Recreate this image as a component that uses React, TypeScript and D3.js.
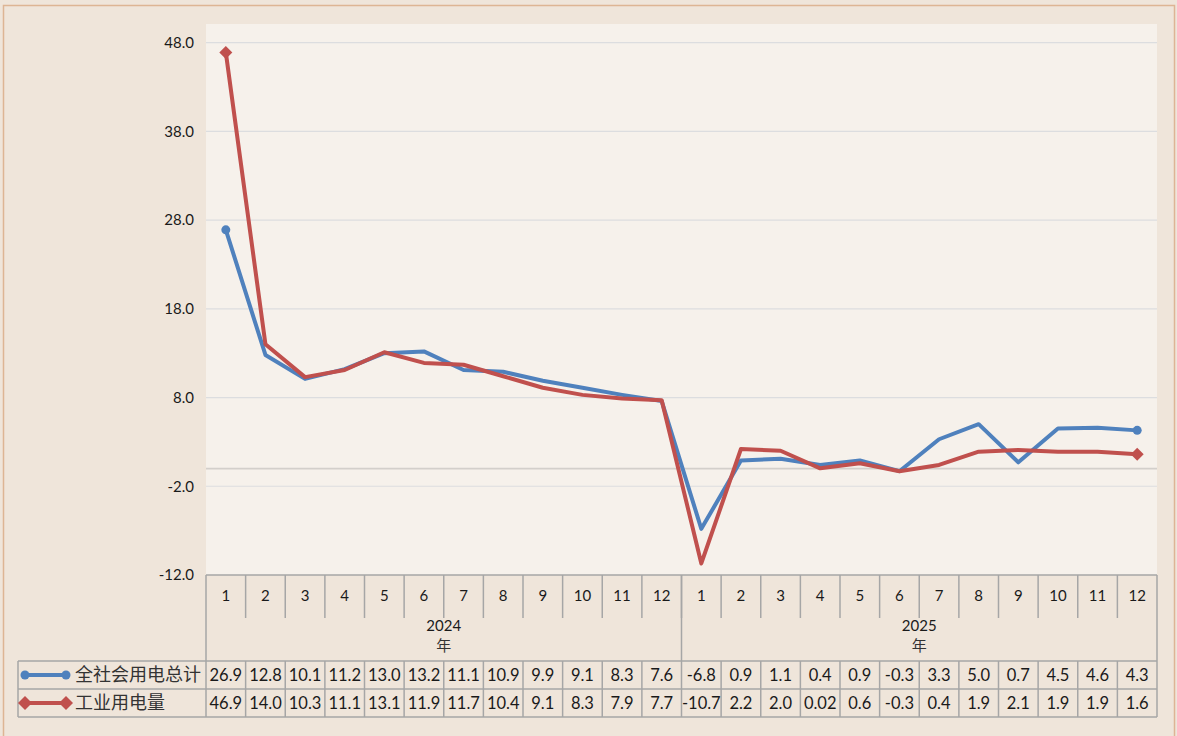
import { useMemo } from "react";
import * as d3 from "d3";

// ── Data ────────────────────────────────────────────────────────────────
const months = ["1", "2", "3", "4", "5", "6", "7", "8", "9", "10", "11", "12"];
const years = ["2024", "2025"];
const totalLabels = [
  "26.9", "12.8", "10.1", "11.2", "13.0", "13.2", "11.1", "10.9", "9.9", "9.1", "8.3", "7.6",
  "-6.8", "0.9", "1.1", "0.4", "0.9", "-0.3", "3.3", "5.0", "0.7", "4.5", "4.6", "4.3",
];
const industryLabels = [
  "46.9", "14.0", "10.3", "11.1", "13.1", "11.9", "11.7", "10.4", "9.1", "8.3", "7.9", "7.7",
  "-10.7", "2.2", "2.0", "0.02", "0.6", "-0.3", "0.4", "1.9", "2.1", "1.9", "1.9", "1.6",
];
const yTicks = [-12, -2, 8, 18, 28, 38, 48];
const seriesNames = ["全社会用电总计", "工业用电量"];

const totalValues = totalLabels.map(Number);
const industryValues = industryLabels.map(Number);

// ── Layout ──────────────────────────────────────────────────────────────
const W = 1177;
const H = 736;
const PLOT = { left: 206, right: 1157, top: 24, bottom: 575 };
const ROW_MONTH = 618;
const ROW_YEAR = 661;
const ROW_1 = 689;
const ROW_2 = 717;
const LEGEND_LEFT = 18;

const BLUE = "#4f81bd";
const RED = "#c0504d";
const GRID = "#dcdddf";
const TABLE_LINE = "#a6a6a6";
const FONT = "Lato, 'Noto Sans CJK SC', sans-serif";
const CJK = "'Noto Sans CJK SC', sans-serif";

export default function App() {
  const n = totalValues.length;
  const x = useMemo(
    () => d3.scaleBand<number>().domain(d3.range(n)).range([PLOT.left, PLOT.right]),
    [n]
  );
  const y = useMemo(
    () => d3.scaleLinear().domain([-12, 50.1]).range([PLOT.bottom, PLOT.top]),
    []
  );
  const cx = (i: number) => (x(i) ?? 0) + x.bandwidth() / 2;
  const line = d3
    .line<number>()
    .x((_, i) => cx(i))
    .y((d) => y(d));

  const bw = x.bandwidth();
  const yearSplit = x(12) ?? 0;

  const diamond = (px: number, py: number, r: number) =>
    `M${px},${py - r}L${px + r},${py}L${px},${py + r}L${px - r},${py}Z`;

  return (
    <svg
      width={W}
      height={H}
      style={{ position: "absolute", left: 0, top: 0, display: "block" }}
    >
      <rect x={0} y={0} width={W} height={H} fill="#efe5da" />
      <rect x={3.5} y={5.5} width={1171} height={740} fill="none" stroke="#ddb594" strokeWidth={1.5} />
      <rect
        x={PLOT.left}
        y={PLOT.top}
        width={PLOT.right - PLOT.left}
        height={PLOT.bottom - PLOT.top}
        fill="#f6f1eb"
      />

      {/* gridlines */}
      {yTicks.filter((t) => t !== -12).map((t) => (
        <line key={t} x1={PLOT.left} x2={PLOT.right} y1={y(t)} y2={y(t)} stroke={GRID} strokeWidth={1.2} />
      ))}
      <line x1={PLOT.left} x2={PLOT.right} y1={y(0)} y2={y(0)} stroke="#d3cfcb" strokeWidth={1.8} />

      {/* y tick labels */}
      {yTicks.map((t) => (
        <text
          key={t}
          x={194}
          y={y(t)}
          dy="0.35em"
          textAnchor="end"
          fontSize={15}
          fontFamily={FONT}
          fill="#1a1a1a"
        >
          {t.toFixed(1)}
        </text>
      ))}

      {/* lines */}
      <path d={line(totalValues) ?? ""} fill="none" stroke={BLUE} strokeWidth={4} strokeLinejoin="round" />
      <path d={line(industryValues) ?? ""} fill="none" stroke={RED} strokeWidth={4} strokeLinejoin="round" />
      {[0, n - 1].map((i) => (
        <circle key={`c${i}`} cx={cx(i)} cy={y(totalValues[i])} r={4.5} fill={BLUE} />
      ))}
      {[0, n - 1].map((i) => (
        <path key={`d${i}`} d={diamond(cx(i), y(industryValues[i]), 6.5)} fill={RED} />
      ))}

      {/* table */}
      <g stroke={TABLE_LINE} strokeWidth={1.5}>
        <line x1={PLOT.left} x2={PLOT.right} y1={PLOT.bottom} y2={PLOT.bottom} />
        <line x1={LEGEND_LEFT} x2={PLOT.right} y1={ROW_YEAR} y2={ROW_YEAR} />
        <line x1={LEGEND_LEFT} x2={PLOT.right} y1={ROW_1} y2={ROW_1} />
        <line x1={LEGEND_LEFT} x2={PLOT.right} y1={ROW_2} y2={ROW_2} />
        <line x1={LEGEND_LEFT} x2={LEGEND_LEFT} y1={ROW_YEAR} y2={ROW_2} />
        <line x1={PLOT.left} x2={PLOT.left} y1={PLOT.bottom} y2={ROW_2} />
        <line x1={PLOT.right} x2={PLOT.right} y1={PLOT.bottom} y2={ROW_2} />
        <line x1={yearSplit} x2={yearSplit} y1={PLOT.bottom} y2={ROW_YEAR} />
        {d3.range(1, n).map((i) => (
          <line key={`m${i}`} x1={x(i)} x2={x(i)} y1={PLOT.bottom} y2={ROW_MONTH} />
        ))}
        {d3.range(1, n).map((i) => (
          <line key={`v${i}`} x1={x(i)} x2={x(i)} y1={ROW_YEAR} y2={ROW_2} />
        ))}
      </g>

      {/* month labels */}
      {d3.range(n).map((i) => (
        <text key={`ml${i}`} x={cx(i)} y={596} textAnchor="middle" dy="0.35em" fontSize={15} fontFamily={FONT} fill="#1a1a1a">
          {months[i % 12]}
        </text>
      ))}
      {years.map((yr, k) => {
        const gx = (x(k * 12) ?? 0) + (bw * 12) / 2;
        return (
          <g key={yr}>
            <text x={gx} y={626} textAnchor="middle" dy="0.35em" fontSize={15} fontFamily={FONT} fill="#1a1a1a">
              {yr}
            </text>
            <text x={gx} y={646} textAnchor="middle" dy="0.35em" fontSize={15} fontFamily={CJK} fill="#333">
              年
            </text>
          </g>
        );
      })}

      {/* data rows */}
      {[totalLabels, industryLabels].map((labels, r) => (
        <g key={`row${r}`}>
          {labels.map((v, i) => (
            <text
              key={i}
              x={cx(i)}
              y={r === 0 ? (ROW_YEAR + ROW_1) / 2 : (ROW_1 + ROW_2) / 2}
              dy="0.35em"
              textAnchor="middle"
              fontSize={16.5}
              fontFamily={FONT}
              fill="#1a1a1a"
            >
              {v}
            </text>
          ))}
        </g>
      ))}

      {/* legend keys */}
      <g>
        <line x1={25} x2={66} y1={675} y2={675} stroke={BLUE} strokeWidth={4} />
        <circle cx={25} cy={675} r={4.5} fill={BLUE} />
        <circle cx={66} cy={675} r={4.5} fill={BLUE} />
        <text x={75} y={675} dy="0.35em" fontSize={18} fontFamily={CJK} fill="#333">
          {seriesNames[0]}
        </text>
        <line x1={25} x2={66} y1={703} y2={703} stroke={RED} strokeWidth={4} />
        <path d={diamond(25, 703, 7)} fill={RED} />
        <path d={diamond(66, 703, 7)} fill={RED} />
        <text x={75} y={703} dy="0.35em" fontSize={18} fontFamily={CJK} fill="#333">
          {seriesNames[1]}
        </text>
      </g>
    </svg>
  );
}
